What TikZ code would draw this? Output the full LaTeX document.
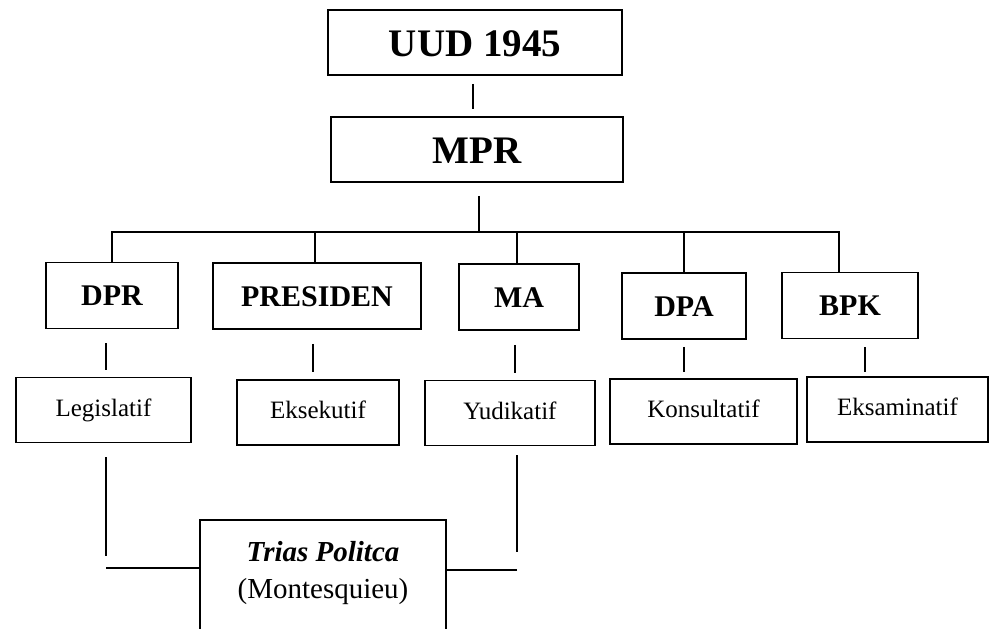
\documentclass[tikz,border=0pt]{standalone}
\usepackage{fontspec}
\setmainfont{Liberation Serif}
\usepackage{tikz}

\begin{document}
\begin{tikzpicture}[x=1pt,y=-1pt
	,line width=1.8pt
	,every node/.style={draw,line width=1.8pt,inner sep=0pt}
	,top/.style={font=\fontsize{39}{44}\selectfont\bfseries,minimum height=65pt
		,text height=27pt,text depth=-8pt}
	,organ/.style={font=\fontsize{30}{34}\selectfont\bfseries,minimum height=66pt
		,text height=20.7pt,text depth=0pt}
	,fungsi/.style={font=\fontsize{25}{30}\selectfont,minimum height=65pt
		,text height=17.3pt,text depth=5pt}
	,link/.style={shorten <=14pt,shorten >=7pt}]
  \clip (0,0) rectangle (994,629);

  % UUD and MPR
  \node[top,minimum width=294pt](uud) at (475,42.5) {UUD 1945};
  \node[top,minimum width=292pt](mpr) at (477,149.5) {MPR};
  % 5 organs
  \node[organ,minimum width=132pt](dpr)  at (112,295.5) {DPR};
  \node[organ,minimum width=208pt](pres) at (317,296)   {PRESIDEN};
  \node[organ,minimum width=120pt](ma)   at (519,297)   {MA};
  \node[organ,minimum width=124pt](dpa)  at (684,306)   {DPA};
  \node[organ,minimum width=136pt](bpk)  at (850,305.5) {BPK};
  % 5 functions
  \node[fungsi,minimum width=175pt](leg)  at (103.5,410) {Legislatif};
  \node[fungsi,minimum width=162pt](eks)  at (318,412.5) {Eksekutif};
  \node[fungsi,minimum width=170pt](yud)  at (510,413)   {Yudikatif};
  \node[fungsi,minimum width=187pt](kons) at (703.5,411.5) {Konsultatif};
  \node[fungsi,minimum width=181pt](ekm)  at (897.5,409.5) {Eksaminatif};
  % trias politica
  \node[font=\fontsize{29}{37}\selectfont,align=center,anchor=north
	,minimum width=246pt,inner ysep=21pt,text depth=60pt](trias) at (323,519)
	{\textbf{\textit{Trias Politca}}\\(Montesquieu)};

  \coordinate (bus) at (479,232);
  \coordinate (lcorner) at (106,568);
  \coordinate (rcorner) at (517,570);

  % top to bottom
  \path [shorten <=8pt,shorten >=7pt] ([xshift=-2pt]uud.south) edge ([xshift=-2pt]uud.south |- mpr.north);
  \path [shorten <=13pt]              (bus |- mpr.south) edge (bus);
  \draw (dpr.north) |- (bus) -| ([xshift=-11pt]bpk.north);
  \path [      ] ([xshift=-2pt]pres.north) edge ([xshift=-2pt]pres.north |- bus);
  \path [      ] ([xshift=-2pt]ma.north)   edge ([xshift=-2pt]ma.north |- bus);
  \path [      ] (dpa.north)               edge (dpa.north |- bus);
  % organs to functions
  \path [link] ([xshift=-6pt]dpr.south)  edge ([xshift=-6pt]dpr.south |- leg.north);
  \path [link] ([xshift=-4pt]pres.south) edge ([xshift=-4pt]pres.south |- eks.north);
  \path [link] ([xshift=-4pt]ma.south)   edge ([xshift=-4pt]ma.south |- yud.north);
  \path [link,shorten <=7pt,shorten >=6pt] (dpa.south) edge (dpa.south |- kons.north);
  \path [link,shorten <=8pt,shorten >=4pt] ([xshift=15pt]bpk.south) edge ([xshift=15pt]bpk.south |- ekm.north);
  % functions to trias politica
  \path [shorten <=14pt,shorten >=12pt] ([xshift=2.5pt]leg.south) edge (lcorner);
  \path [      ] (lcorner) edge (lcorner -| trias.west);
  \path [shorten <=9pt,shorten >=18pt] ([xshift=7pt]yud.south) edge (rcorner);
  \path [      ] (rcorner) edge (rcorner -| trias.east);
\end{tikzpicture}
\end{document}
